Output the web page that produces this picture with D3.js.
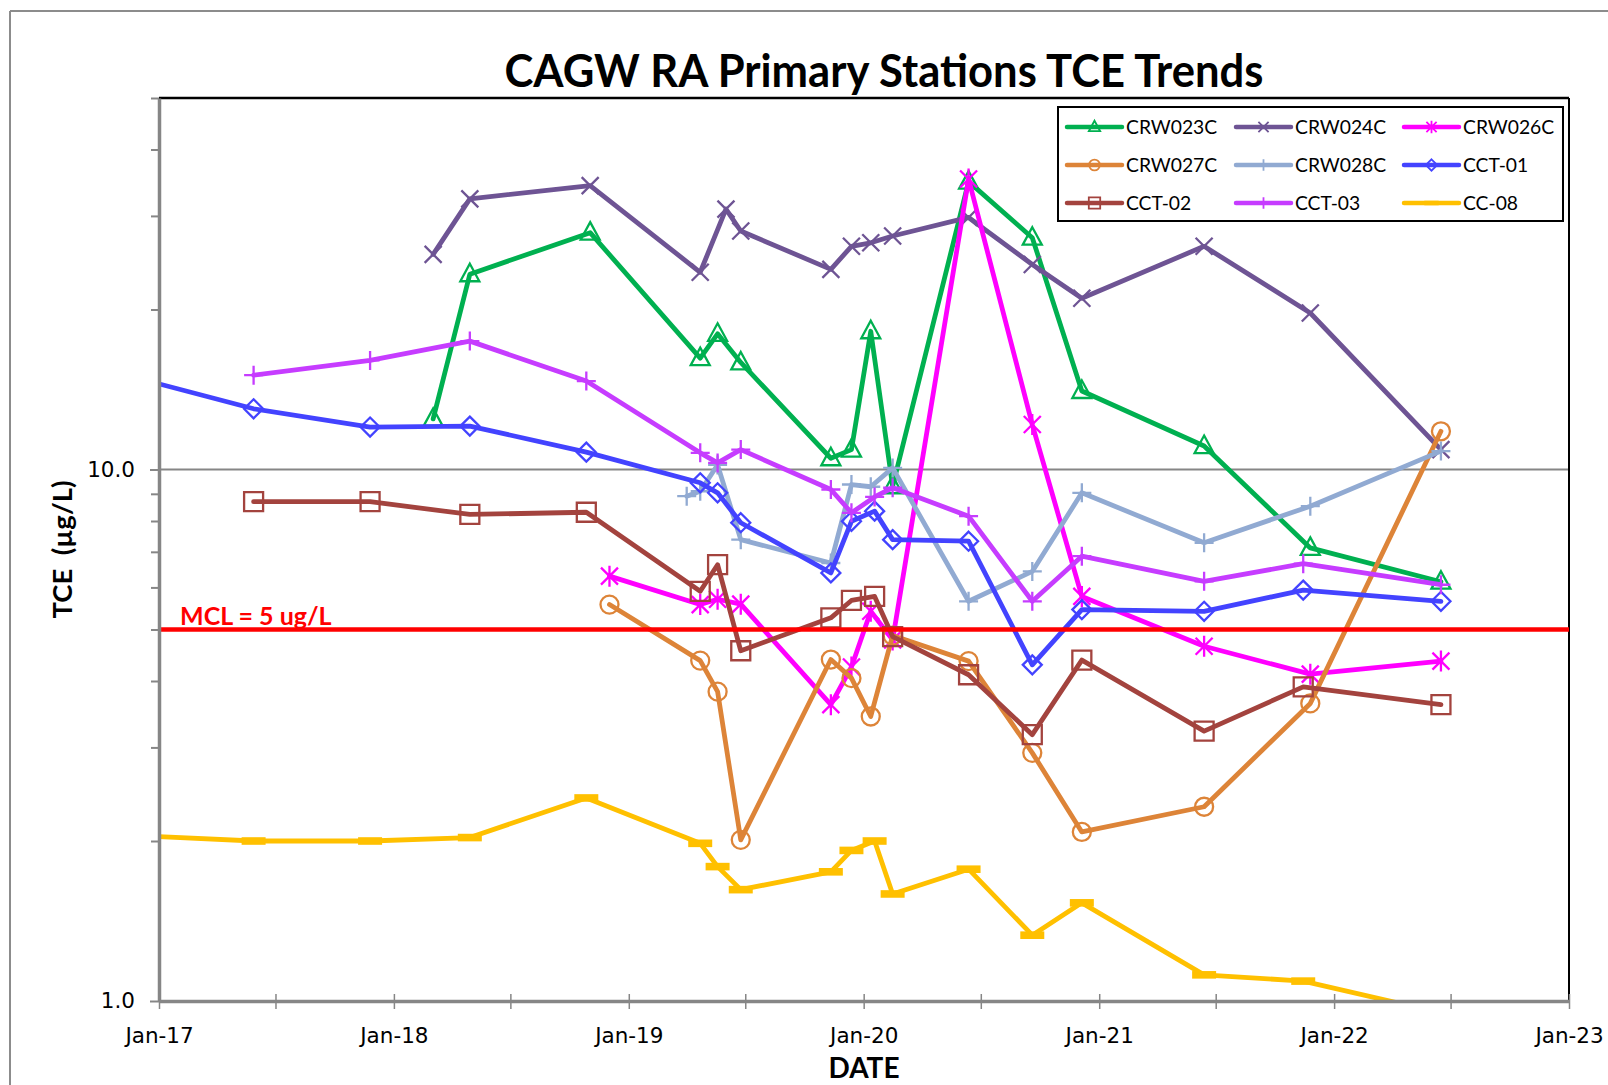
<!DOCTYPE html>
<html><head><meta charset="utf-8">
<script src="https://cdn.jsdelivr.net/npm/d3@7"></script>
<style>body{margin:0;background:#fff}</style>
</head><body>
<svg id="chart" width="1608" height="1085"></svg>
<script>
// ---------------- DATA ----------------
const chartTitle = "CAGW RA Primary Stations TCE Trends";
const xAxisTitle = "DATE";
const yAxisTitle = "TCE  (µg/L)";
const mclValue = 5;
const mclLabel = "MCL = 5 ug/L";
const xTickDates = ["2017-01-01","2018-01-01","2019-01-01","2020-01-01","2021-01-01","2022-01-01","2023-01-01"];
const xTickLabels = ["Jan-17","Jan-18","Jan-19","Jan-20","Jan-21","Jan-22","Jan-23"];
const xMinorTickDates = ["2017-07-01","2018-07-01","2019-07-01","2020-07-01","2021-07-01","2022-07-01"];
const yTickValues = [1, 10];
const yTickLabels = ["1.0", "10.0"];
const yMinorTicks = [2,3,4,5,6,7,8,9,20,30,40,50];
const yDomain = [1, 50];

const seriesNames = ["CRW023C","CRW024C","CRW026C","CRW027C","CRW028C","CCT-01","CCT-02","CCT-03","CC-08"];

const crw023cDates = ["2018-03-03","2018-04-29","2018-11-02","2019-04-22","2019-05-19","2019-06-24","2019-11-11","2019-12-13","2020-01-12","2020-02-15","2020-06-12","2020-09-19","2020-12-05","2021-06-13","2021-11-25","2022-06-16"];
const crw023cValues = [12.45, 23.3, 27.9, 16.2, 18.0, 15.9, 10.5, 10.9, 18.2, 9.3, 34.8, 27.3, 14.05, 11.07, 7.12, 6.15];

const crw024cDates = ["2018-03-03","2018-04-29","2018-11-02","2019-04-22","2019-06-01","2019-06-24","2019-11-11","2019-12-13","2020-01-12","2020-02-15","2020-06-12","2020-09-19","2020-12-05","2021-06-13","2021-11-25","2022-06-16"];
const crw024cValues = [25.4, 32.3, 34.2, 23.5, 30.9, 28.1, 23.8, 26.3, 26.7, 27.5, 29.8, 24.3, 21.0, 26.3, 19.7, 10.9];

const crw026cDates = ["2018-12-02","2019-04-22","2019-05-19","2019-06-24","2019-11-11","2019-12-13","2020-01-12","2020-02-15","2020-06-12","2020-09-19","2020-12-05","2021-06-13","2021-11-25","2022-06-16"];
const crw026cValues = [6.30, 5.57, 5.70, 5.58, 3.61, 4.25, 5.41, 4.78, 35.2, 12.15, 5.77, 4.65, 4.12, 4.36];

const crw027cDates = ["2018-12-02","2019-04-22","2019-05-19","2019-06-24","2019-11-11","2019-12-13","2020-01-12","2020-02-15","2020-06-12","2020-09-19","2020-12-05","2021-06-13","2021-11-25","2022-06-16"];
const crw027cValues = [5.57, 4.37, 3.82, 2.01, 4.39, 4.05, 3.43, 4.87, 4.36, 2.93, 2.08, 2.32, 3.63, 11.8];

const crw028cDates = ["2019-04-01","2019-04-22","2019-05-19","2019-06-24","2019-11-11","2019-12-13","2020-01-12","2020-02-15","2020-06-12","2020-09-19","2020-12-05","2021-06-13","2021-11-25","2022-06-16"];
const crw028cValues = [8.91, 9.10, 10.2, 7.38, 6.67, 9.37, 9.28, 10.07, 5.65, 6.43, 9.04, 7.28, 8.53, 10.83];

const cct01Dates = ["2016-11-15","2017-05-28","2017-11-25","2018-04-29","2018-10-27","2019-04-22","2019-05-19","2019-06-24","2019-11-11","2019-12-13","2020-01-18","2020-02-15","2020-06-12","2020-09-19","2020-12-05","2021-06-13","2021-11-14","2022-06-16"];
const cct01Values = [15.0, 13.01, 12.02, 12.07, 10.78, 9.44, 9.04, 7.94, 6.39, 7.99, 8.35, 7.38, 7.33, 4.29, 5.45, 5.41, 5.93, 5.65];

const cct02Dates = ["2017-05-28","2017-11-25","2018-04-29","2018-10-27","2019-04-22","2019-05-19","2019-06-24","2019-11-11","2019-12-13","2020-01-18","2020-02-15","2020-06-12","2020-09-19","2020-12-05","2021-06-13","2021-11-14","2022-06-16"];
const cct02Values = [8.70, 8.70, 8.23, 8.31, 5.90, 6.62, 4.56, 5.26, 5.67, 5.77, 4.85, 4.11, 3.17, 4.38, 3.22, 3.90, 3.61];

const cct03Dates = ["2017-05-28","2017-11-25","2018-04-29","2018-10-27","2019-04-22","2019-05-19","2019-06-24","2019-11-11","2019-12-13","2020-01-18","2020-02-15","2020-06-12","2020-09-19","2020-12-05","2021-06-13","2021-11-14","2022-06-16"];
const cct03Values = [15.05, 16.04, 17.44, 14.67, 10.75, 10.29, 10.9, 9.17, 8.29, 8.88, 9.24, 8.17, 5.65, 6.87, 6.16, 6.65, 6.07];

const cc08Dates = ["2016-11-15","2017-05-28","2017-11-25","2018-04-29","2018-10-27","2019-04-22","2019-05-19","2019-06-24","2019-11-11","2019-12-13","2020-01-18","2020-02-15","2020-06-12","2020-09-19","2020-12-05","2021-06-13","2021-11-14","2022-06-16"];
const cc08Values = [2.05, 2.0, 2.0, 2.03, 2.41, 1.98, 1.79, 1.62, 1.75, 1.92, 2.0, 1.59, 1.77, 1.33, 1.53, 1.12, 1.09, 0.95];

// ---------------- STYLES ----------------
const seriesColors = ["#00b050","#6e5494","#ff00ff","#dd8438","#91aad2","#4343ff","#a3433e","#c63cff","#ffc000"];
const seriesMarkers = ["triangle","x","asterisk","circle","plus","diamond","square","plus","dash"];

const parse = d3.timeParse("%Y-%m-%d");
const allDates = [crw023cDates, crw024cDates, crw026cDates, crw027cDates, crw028cDates, cct01Dates, cct02Dates, cct03Dates, cc08Dates];
const allValues = [crw023cValues, crw024cValues, crw026cValues, crw027cValues, crw028cValues, cct01Values, cct02Values, cct03Values, cc08Values];
const series = seriesNames.map((name, i) => ({
  name, color: seriesColors[i], marker: seriesMarkers[i],
  points: allDates[i].map((d, j) => ({date: parse(d), value: allValues[i][j]}))
}));

const W = 1608, H = 1085;
const plotL = 159, plotR = 1569, plotT = 98, plotB = 1001;

const svg = d3.select("#chart");
const x = d3.scaleTime().domain([parse(xTickDates[0]), parse(xTickDates[xTickDates.length-1])]).range([plotL, plotR]);
const y = d3.scaleLog().domain(yDomain).range([plotB, plotT]);

const markerPaths = {
  triangle: s => `M0,${-10.5*s}L${9.5*s},${7*s}L${-9.5*s},${7*s}Z`,
  x: s => `M${-8.5*s},${-8.5*s}L${8.5*s},${8.5*s}M${-8.5*s},${8.5*s}L${8.5*s},${-8.5*s}`,
  asterisk: s => `M${-8.5*s},${-8.5*s}L${8.5*s},${8.5*s}M${-8.5*s},${8.5*s}L${8.5*s},${-8.5*s}M0,${-10.5*s}V${10.5*s}`,
  circle: s => d3.arc()({innerRadius:0, outerRadius:9*s, startAngle:0, endAngle:2*Math.PI}),
  plus: s => `M${-9.5*s},0H${9.5*s}M0,${-9.5*s}V${9.5*s}`,
  diamond: s => `M0,${-9.5*s}L${9.5*s},0L0,${9.5*s}L${-9.5*s},0Z`,
  square: s => `M${-9.5*s},${-9.5*s}H${9.5*s}V${9.5*s}H${-9.5*s}Z`,
  dash: s => `M${-12*s},${-3.8*s}H${12*s}V${3.8*s}H${-12*s}Z`
};

// outer frame
svg.append("line").attr("x1",10).attr("x2",10).attr("y1",11).attr("y2",H).attr("stroke","#8c8c8c").attr("stroke-width",2);
svg.append("line").attr("x1",10).attr("x2",W).attr("y1",11).attr("y2",11).attr("stroke","#8c8c8c").attr("stroke-width",2);

// title
svg.append("text").attr("x",884).attr("y",87).attr("text-anchor","middle")
  .attr("font-family","Lato, 'Open Sans', sans-serif").attr("font-weight","bold").attr("font-size",46)
  .attr("textLength",759).attr("lengthAdjust","spacingAndGlyphs").text(chartTitle);

// gridline at 10
svg.append("line").attr("x1",plotL).attr("x2",plotR).attr("y1",y(10)).attr("y2",y(10)).attr("stroke","#868686").attr("stroke-width",2);

// plot frame top/right
svg.append("line").attr("x1",plotL).attr("x2",plotR).attr("y1",plotT).attr("y2",plotT).attr("stroke","#000").attr("stroke-width",2.5);
svg.append("line").attr("x1",plotR).attr("x2",plotR).attr("y1",plotT).attr("y2",plotB).attr("stroke","#000").attr("stroke-width",2);

// clip
svg.append("defs").append("clipPath").attr("id","clip").append("rect")
  .attr("x",plotL).attr("y",plotT).attr("width",plotR-plotL).attr("height",plotB-plotT);

const plot = svg.append("g").attr("clip-path","url(#clip)");
const line = d3.line().x(d => x(d.date)).y(d => y(d.value));

series.forEach(s => {
  const g = plot.append("g");
  g.append("path").datum(s.points).attr("d", line).attr("fill","none")
    .attr("stroke", s.color).attr("stroke-width", 4.8)
    .attr("stroke-linejoin","round").attr("stroke-linecap","round");
  const filled = s.marker === "dash";
  g.selectAll("path.mk").data(s.points).join("path").attr("class","mk")
    .attr("transform", d => `translate(${x(d.date)},${y(d.value)})`)
    .attr("d", markerPaths[s.marker](1))
    .attr("fill", filled ? s.color : "none")
    .attr("stroke", s.color).attr("stroke-width", filled ? 0 : 2.3);
});

// MCL line
svg.append("line").attr("x1",plotL+2).attr("x2",plotR).attr("y1",y(mclValue)).attr("y2",y(mclValue))
  .attr("stroke","#ff0000").attr("stroke-width",4.5);
svg.append("text").attr("x",180).attr("y",y(mclValue)-4)
  .attr("font-family","Lato, sans-serif").attr("font-weight","bold").attr("font-size",25)
  .attr("fill","#ff0000").text(mclLabel);

// X axis
const xAxis = d3.axisBottom(x).tickValues(xTickDates.map(parse))
  .tickFormat((d,i) => xTickLabels[i]).tickSize(8).tickSizeOuter(0).tickPadding(19);
const gx = svg.append("g").attr("transform",`translate(0,${plotB})`).call(xAxis);
gx.select(".domain").attr("stroke","#868686").attr("stroke-width",3.5);
gx.selectAll(".tick line").attr("y1",-7).attr("stroke","#868686").attr("stroke-width",1.5);
gx.selectAll(".tick text").attr("font-family","'DejaVu Sans', Verdana, sans-serif").attr("font-size",21.5).attr("fill","#000");

const gxm = svg.append("g").attr("transform",`translate(0,${plotB})`)
  .call(d3.axisBottom(x).tickValues(xMinorTickDates.map(parse)).tickFormat("").tickSize(8).tickSizeOuter(0));
gxm.select(".domain").remove();
gxm.selectAll(".tick line").attr("y1",-7).attr("stroke","#868686").attr("stroke-width",1.5);

// Y axis
const yAxis = d3.axisLeft(y).tickValues(yTickValues).tickFormat((d,i) => yTickLabels[i])
  .tickSize(9).tickSizeOuter(0).tickPadding(15);
const gy = svg.append("g").attr("transform",`translate(${plotL},0)`).call(yAxis);
gy.select(".domain").attr("stroke","#868686").attr("stroke-width",3.5);
gy.selectAll(".tick line").attr("stroke","#868686").attr("stroke-width",2);
gy.selectAll(".tick text").attr("font-family","'DejaVu Sans', Verdana, sans-serif").attr("font-size",21.5).attr("fill","#000");

const gym = svg.append("g").attr("transform",`translate(${plotL},0)`)
  .call(d3.axisLeft(y).tickValues(yMinorTicks).tickFormat("").tickSize(8).tickSizeOuter(0));
gym.select(".domain").remove();
gym.selectAll(".tick line").attr("stroke","#868686").attr("stroke-width",2);

// axis titles
svg.append("text").attr("x",(plotL+plotR)/2).attr("y",1078).attr("text-anchor","middle")
  .attr("font-family","Lato, sans-serif").attr("font-weight","bold").attr("font-size",28).text(xAxisTitle);
svg.append("text").attr("transform",`translate(72,${(plotT+plotB)/2}) rotate(-90)`).attr("text-anchor","middle")
  .attr("font-family","Lato, sans-serif").attr("font-weight","bold").attr("font-size",27.5)
  .attr("xml:space","preserve").style("white-space","pre").text(yAxisTitle);

// legend
const legend = svg.append("g");
legend.append("rect").attr("x",1058).attr("y",107).attr("width",505).attr("height",114)
  .attr("fill","#fff").attr("stroke","#000").attr("stroke-width",2);
const colX = [1067, 1236, 1404], rowY = [127, 165, 203];
series.forEach((s, i) => {
  const cx = colX[i % 3], cy = rowY[Math.floor(i / 3)];
  const g = legend.append("g");
  g.append("line").attr("x1",cx).attr("x2",cx+55).attr("y1",cy).attr("y2",cy)
    .attr("stroke",s.color).attr("stroke-width",4.5).attr("stroke-linecap","round");
  const filled = s.marker === "dash";
  g.append("path").attr("transform",`translate(${cx+27.5},${cy})`).attr("d", markerPaths[s.marker](0.6))
    .attr("fill", filled ? s.color : "none").attr("stroke", s.color).attr("stroke-width", filled ? 0 : 1.8);
  g.append("text").attr("x",cx+59).attr("y",cy).attr("dy","0.36em")
    .attr("font-family","Lato, sans-serif").attr("font-size",19.3).text(s.name);
});
</script>
</body></html>
